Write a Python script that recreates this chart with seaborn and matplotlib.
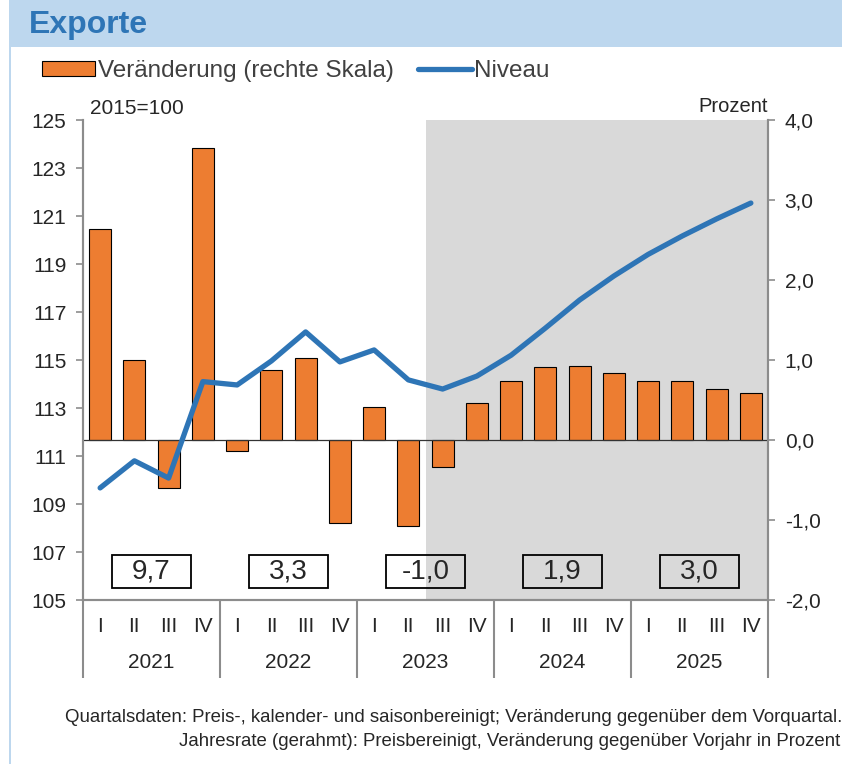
import numpy as np
import pandas as pd
import seaborn as sns
import matplotlib.pyplot as plt
from matplotlib.patches import Rectangle, Patch
from matplotlib.lines import Line2D
from matplotlib.transforms import blended_transform_factory

# Daten
years = ['2021', '2022', '2023', '2024', '2025']
quarters = ['I', 'II', 'III', 'IV']
veraenderung = [2.64, 1.00, -0.60, 3.65,
                -0.14, 0.87, 1.03, -1.04,
                0.41, -1.08, -0.34, 0.46,
                0.74, 0.91, 0.93, 0.84,
                0.74, 0.74, 0.64, 0.59]
niveau = [109.67, 110.80, 110.08, 114.10,
          113.96, 114.96, 116.17, 114.92,
          115.42, 114.17, 113.79, 114.33,
          115.20, 116.33, 117.50, 118.50,
          119.40, 120.17, 120.88, 121.54]
jahresrate = [9.7, 3.3, -1.0, 1.9, 3.0]
prognose_ab = 10  # 2023 III

df = pd.DataFrame({
    'quartal': [f'{y} {q}' for y in years for q in quarters],
    'pos': np.arange(len(veraenderung)),
    'veraenderung': veraenderung,
    'niveau': niveau,
})

sns.set_style('white')
plt.rcParams['font.family'] = ['Liberation Sans', 'DejaVu Sans']

orange = '#ED7D31'
blue = '#2E75B6'
grey = '#8C8C8C'
band = '#BDD7EE'

fig = plt.figure(figsize=(8.42, 7.64), dpi=100)
W, H = 842, 764

# Titelband
fig.patches.append(Rectangle((10 / W, 1 - 47 / H), 1, 47 / H, transform=fig.transFigure,
                             facecolor=band, edgecolor='none', zorder=0))
fig.patches.append(Rectangle((9 / W, 0), 2 / W, 1, transform=fig.transFigure,
                             facecolor=band, edgecolor='none', zorder=0))
fig.text(29 / W, 1 - 25 / H, 'Exporte', fontsize=23, fontweight='bold', color=blue,
         va='center', ha='left')

ax = fig.add_axes([83 / W, 1 - 600 / H, (768 - 83) / W, 480 / H])
ax2 = ax.twinx()

# Balken (rechte Skala)
ax.axvspan(prognose_ab - 0.5, len(veraenderung) - 0.5, color='#D9D9D9', zorder=0, lw=0)
sns.barplot(data=df, x='quartal', y='veraenderung', ax=ax, color=orange, width=0.64,
            edgecolor='black', linewidth=0.8, saturation=1, zorder=2)
ax.axhline(0, color='#333333', lw=0.9, zorder=3)
ax.set_ylim(-2, 4)
ax.set_xlim(-0.5, len(veraenderung) - 0.5)
ax.yaxis.tick_right()
ax.set_yticks(np.arange(-2, 4.1, 1))
ax.set_yticklabels([f'{v:.1f}'.replace('.', ',') for v in np.arange(-2, 4.1, 1)], fontsize=15)
ax.set_ylabel('')
ax.set_xlabel('')

# Linie (linke Skala)
sns.lineplot(data=df, x='pos', y='niveau', ax=ax2, color=blue, lw=3.8,
             solid_capstyle='round', solid_joinstyle='round')
ax2.set_ylim(105, 125)
ax2.yaxis.tick_left()
ax2.set_yticks(np.arange(105, 126, 2))
ax2.set_yticklabels([str(v) for v in range(105, 126, 2)], fontsize=15)
ax2.set_ylabel('')
ax2.set_xlabel('')
ax2.set_xlim(-0.5, len(veraenderung) - 0.5)

for a in (ax, ax2):
    a.spines['top'].set_visible(False)
    for s in ('left', 'right', 'bottom'):
        a.spines[s].set_color(grey)
        a.spines[s].set_linewidth(1.5)
    a.tick_params(axis='y', length=5, width=1.2, color=grey, pad=7)

# x-Achse: Jahrestrenner als lange Ticks, Quartale als Beschriftung
ax.set_xticks(np.arange(-0.5, len(veraenderung), 4))
ax.set_xticklabels([])
ax.tick_params(axis='x', which='major', bottom=True, length=56, width=1.5, color=grey,
               direction='out')
ax.set_xticks(np.arange(len(veraenderung)), minor=True)
ax.set_xticklabels([q for _ in years for q in quarters], minor=True, fontsize=15)
ax.tick_params(axis='x', which='minor', bottom=True, length=0, pad=12)

trans = blended_transform_factory(ax.transData, ax.transAxes)
for i, y in enumerate(years):
    ax.text(i * 4 + 1.5, -63 / 480, y, transform=trans, ha='center', va='center', fontsize=15)

# Jahresraten (gerahmt)
for i, v in enumerate(jahresrate):
    c = i * 4 + 1.5
    ax.add_patch(Rectangle((c - 1.15, -1.85), 2.3, 0.41, facecolor='none',
                           edgecolor='black', lw=1.3, zorder=4))
    ax.text(c, -1.64, f'{v:.1f}'.replace('.', ','), ha='center', va='center',
            fontsize=20, zorder=5)

fig.text(90 / W, 1 - 108 / H, '2015=100', fontsize=15, va='center', ha='left')
fig.text(768 / W, 1 - 106 / H, 'Prozent', fontsize=14.5, va='center', ha='right')

# Legende
handles = [Patch(facecolor=orange, edgecolor='black', lw=0.8),
           Line2D([], [], color=blue, lw=3.8, solid_capstyle='round')]
fig.legend(handles, ['Veränderung (rechte Skala)', 'Niveau'], loc='center left',
           bbox_to_anchor=(42 / W, 1 - 71 / H), ncol=2, frameon=False, fontsize=17.5,
           handlelength=2.2, handleheight=0.6, handletextpad=0.1, columnspacing=1.0,
           labelcolor='#404040', borderaxespad=0, borderpad=0)

fig.text(1.0, 1 - 718 / H,
         'Quartalsdaten: Preis-, kalender- und saisonbereinigt; Veränderung gegenüber dem Vorquartal.',
         fontsize=13.4, ha='right', va='center')
fig.text(840 / W, 1 - 741 / H,
         'Jahresrate (gerahmt): Preisbereinigt, Veränderung gegenüber Vorjahr in Prozent',
         fontsize=13.4, ha='right', va='center')

fig.savefig('out.png', dpi=100)
